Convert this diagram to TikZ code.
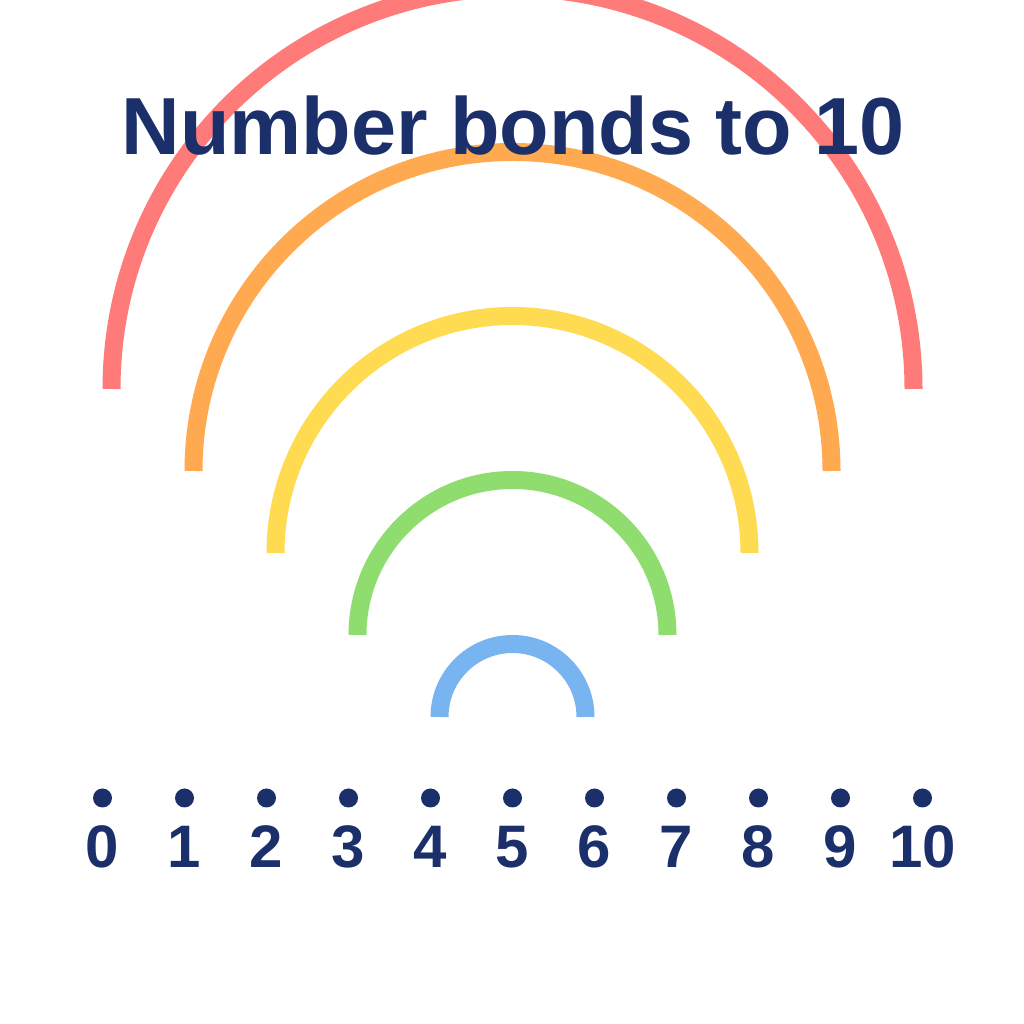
\documentclass[tikz,border=0pt]{standalone}
\usepackage{fontspec}
\setmainfont{Liberation Sans}
\usepackage{xcolor}

\definecolor{bondred}{HTML}{FF7B79}
\definecolor{bondorange}{HTML}{FFAA50}
\definecolor{bondyellow}{HTML}{FFDB52}
\definecolor{bondgreen}{HTML}{8EDD6E}
\definecolor{bondblue}{HTML}{78B4EF}
\definecolor{navy}{HTML}{1B2F6B}

\tikzset{
  bond/.style={line width=18pt},
  dot/.style={circle, fill=navy, inner sep=0pt, minimum size=19pt},
  num/.style={anchor=base, text=navy, font=\fontsize{60}{60}\selectfont\bfseries},
  title/.style={anchor=base, text=navy, font=\fontsize{81}{81}\selectfont\bfseries}
}

\begin{document}
\begin{tikzpicture}[x=1pt, y=1pt] % 1pt per pixel
        \clip (0,0) rectangle (1024,1024);
        \fill[white] (0,0) rectangle (1024,1024);

        % Arcs
        \draw[bond, bondred] (111.5,635) arc (180:0:401);
        \draw[bond, bondorange] (193.5,553) arc (180:0:319);
        \draw[bond, bondyellow] (275.5,471) arc (180:0:237);
        \draw[bond, bondgreen] (357.5,389) arc (180:0:155);
        \draw[bond, bondblue] (439.5,307) arc (180:0:73);

        % Title
        \node[title] (heading) at (513.5,869) {Number bonds to 10};

        % Dots on the number line
        \node[dot] (d0) at (102.5,226) {};
        \node[dot] (d1) at (184.5,226) {};
        \node[dot] (d2) at (266.5,226) {};
        \node[dot] (d3) at (348.5,226) {};
        \node[dot] (d4) at (430.5,226) {};
        \node[dot] (d5) at (512.5,226) {};
        \node[dot] (d6) at (594.5,226) {};
        \node[dot] (d7) at (676.5,226) {};
        \node[dot] (d8) at (758.5,226) {};
        \node[dot] (d9) at (840.5,226) {};
        \node[dot] (d10) at (922.5,226) {};

        % Numbers
        \node[num] (n0) at (102.5,156) {0};
        \node[num] (n1) at (184.5,156) {1};
        \node[num] (n2) at (266.5,156) {2};
        \node[num] (n3) at (348.5,156) {3};
        \node[num] (n4) at (430.5,156) {4};
        \node[num] (n5) at (512.5,156) {5};
        \node[num] (n6) at (594.5,156) {6};
        \node[num] (n7) at (676.5,156) {7};
        \node[num] (n8) at (758.5,156) {8};
        \node[num] (n9) at (840.5,156) {9};
        \node[num] (n10) at (922.5,156) {10};
    \end{tikzpicture}
\end{document}
